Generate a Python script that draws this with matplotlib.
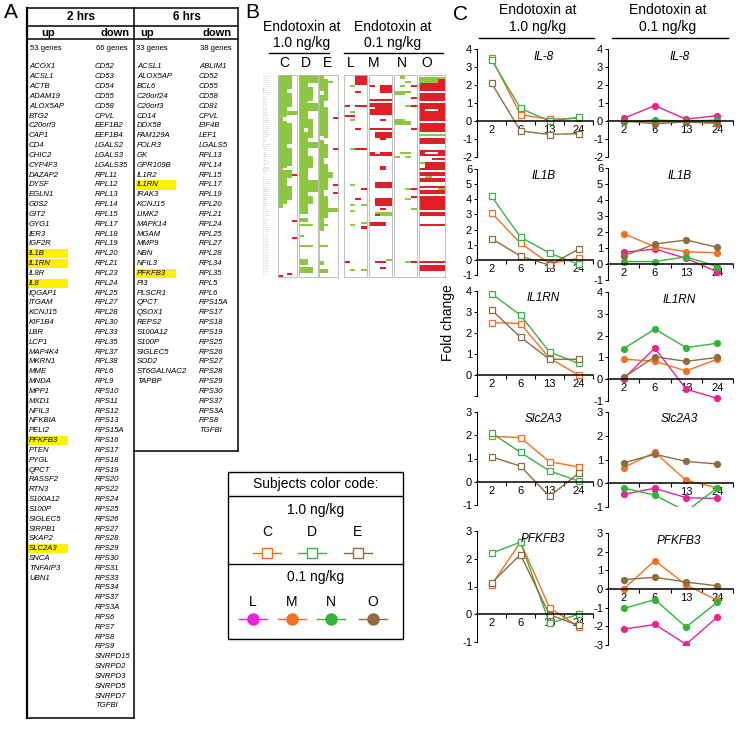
import numpy as np
import matplotlib
matplotlib.use('Agg')
import matplotlib.pyplot as plt
from matplotlib.colors import ListedColormap
from matplotlib.patches import Rectangle

plt.rcParams['font.family'] = ['Liberation Sans', 'DejaVu Sans']
plt.rcParams['axes.unicode_minus'] = False

# ---------------- panel A: gene lists ----------------
up_2h = ['ACOX1', 'ACSL1', 'ACTB', 'ADAM19', 'ALOX5AP', 'BTG2', 'C20orf3', 'CAP1', 'CD4',
         'CHIC2', 'CYP4F3', 'DAZAP2', 'DYSF', 'EGLN1', 'G0S2', 'GIT2', 'GYG1', 'IER3',
         'IGF2R', 'IL1B', 'IL1RN', 'IL8R', 'IL8', 'IQGAP1', 'ITGAM', 'KCNJ15', 'KIF1B4',
         'LBR', 'LCP1', 'MAP4K4', 'MKRN1', 'MME', 'MNDA', 'MPP1', 'MXD1', 'NFIL3', 'NFKBIA',
         'PELI2', 'PFKFB3', 'PTEN', 'PYGL', 'QPCT', 'RASSF2', 'RTN3', 'S100A12', 'S100P',
         'SIGLEC5', 'SIRPB1', 'SKAP2', 'SLC2A3', 'SNCA', 'TNFAIP3', 'UBN1']
down_2h = ['CD52', 'CD53', 'CD54', 'CD55', 'CD58', 'CPVL', 'EEF1B2', 'EEF1B4', 'LGALS2',
           'LGALS3', 'LGALS35', 'RPL11', 'RPL12', 'RPL13', 'RPL14', 'RPL15', 'RPL17', 'RPL18',
           'RPL19', 'RPL20', 'RPL21', 'RPL23', 'RPL24', 'RPL25', 'RPL27', 'RPL28', 'RPL30',
           'RPL33', 'RPL35', 'RPL37', 'RPL38', 'RPL6', 'RPL9', 'RPS10', 'RPS11', 'RPS12',
           'RPS13', 'RPS15A', 'RPS16', 'RPS17', 'RPS18', 'RPS19', 'RPS20', 'RPS22', 'RPS24',
           'RPS25', 'RPS26', 'RPS27', 'RPS28', 'RPS29', 'RPS30', 'RPS31', 'RPS33', 'RPS34',
           'RPS37', 'RPS3A', 'RPS6', 'RPS7', 'RPS8', 'RPS9', 'SNRPD15', 'SNRPD2', 'SNRPD3',
           'SNRPD5', 'SNRPD7', 'TGFBI']
up_6h = ['ACSL1', 'ALOX5AP', 'BCL6', 'C20orf24', 'C20orf3', 'CD14', 'DDX58', 'FAM129A',
         'FOLR3', 'GK', 'GPR109B', 'IL1R2', 'IL1RN', 'IRAK3', 'KCNJ15', 'LIMK2', 'MAPK14',
         'MGAM', 'MMP9', 'NBN', 'NFIL3', 'PFKFB3', 'PI3', 'PLSCR1', 'QPCT', 'QSOX1', 'REPS2',
         'S100A12', 'S100P', 'SIGLEC5', 'SOD2', 'ST6GALNAC2', 'TAPBP']
down_6h = ['ABLIM1', 'CD52', 'CD55', 'CD58', 'CD81', 'CPVL', 'EIF4B', 'LEF1', 'LGALS5',
           'RPL13', 'RPL14', 'RPL15', 'RPL17', 'RPL19', 'RPL20', 'RPL21', 'RPL24', 'RPL25',
           'RPL27', 'RPL28', 'RPL34', 'RPL35', 'RPL5', 'RPL6', 'RPS15A', 'RPS17', 'RPS18',
           'RPS19', 'RPS25', 'RPS26', 'RPS27', 'RPS28', 'RPS29', 'RPS30', 'RPS37', 'RPS3A',
           'RPS8', 'TGFBI']
marked_2h = ['IL1B', 'IL1RN', 'IL8', 'PFKFB3', 'SLC2A3']
marked_6h = ['IL1RN', 'PFKFB3']

# ---------------- panel B: heatmap cells (row0, row1, col0, col1, value) ----------------
# value 1 = green, 2 = red, 0 = blank ; columns are the 4 time points
heat_C = [(0, 63, 0, 1, 1), (0, 6, 2, 2, 1), (9, 15, 2, 2, 1), (18, 19, 2, 3, 1), (24, 33, 2, 2, 1),
          (36, 44, 2, 2, 1), (47, 50, 2, 2, 1), (55, 61, 2, 2, 1), (21, 22, 1, 1, 0), (46, 46, 1, 1, 0),
          (64, 65, 0, 0, 1), (49, 49, 3, 3, 2), (72, 72, 3, 3, 2), (80, 80, 3, 3, 2),
          (98, 98, 2, 2, 2), (99, 99, 0, 0, 2)]
heat_D = [(0, 68, 0, 1, 1), (0, 3, 2, 3, 1), (6, 12, 2, 2, 1), (14, 17, 2, 3, 1), (22, 30, 2, 2, 1),
          (33, 35, 2, 3, 1), (40, 45, 2, 2, 1), (52, 57, 2, 3, 1), (60, 63, 2, 2, 1), (26, 27, 1, 1, 0),
          (71, 72, 0, 1, 1), (74, 74, 0, 2, 1), (79, 79, 0, 0, 1), (84, 84, 0, 2, 1),
          (91, 93, 0, 1, 1), (95, 97, 0, 2, 1)]
heat_E = [(0, 76, 0, 0, 1), (2, 12, 1, 1, 1), (16, 30, 1, 1, 1), (34, 40, 1, 1, 1), (44, 56, 1, 1, 1),
          (60, 70, 1, 1, 1), (3, 3, 2, 2, 1), (48, 50, 2, 2, 1), (66, 67, 2, 3, 1), (8, 9, 0, 0, 0),
          (30, 31, 0, 0, 0), (21, 21, 3, 3, 2), (36, 36, 3, 3, 2), (54, 54, 3, 3, 2),
          (58, 58, 3, 3, 2), (74, 74, 0, 1, 1), (84, 84, 0, 1, 1), (92, 93, 0, 0, 1), (96, 97, 0, 1, 1)]
heat_L = [(0, 4, 2, 3, 2), (5, 5, 1, 1, 1), (8, 8, 2, 2, 2), (15, 15, 0, 0, 2), (15, 15, 2, 3, 2),
          (18, 18, 1, 1, 1), (20, 20, 0, 1, 2), (22, 22, 1, 1, 1), (26, 26, 2, 2, 2), (36, 36, 1, 1, 1),
          (36, 36, 2, 3, 2), (54, 54, 1, 1, 1), (56, 56, 3, 3, 2), (61, 61, 2, 2, 2), (64, 64, 1, 1, 1),
          (64, 64, 3, 3, 1), (67, 67, 1, 1, 1), (73, 73, 3, 3, 1), (74, 74, 1, 1, 1), (75, 75, 3, 3, 2),
          (92, 92, 0, 0, 2), (96, 96, 1, 1, 1), (96, 96, 3, 3, 1)]
heat_M = [(5, 8, 2, 3, 2), (5, 5, 0, 0, 2), (12, 12, 0, 3, 2), (14, 19, 0, 3, 2), (16, 16, 0, 0, 0),
          (22, 22, 2, 2, 2), (26, 26, 0, 3, 2), (28, 30, 1, 3, 2), (31, 31, 2, 2, 2), (38, 39, 0, 3, 2),
          (38, 38, 1, 1, 0), (45, 46, 2, 2, 2), (53, 55, 1, 3, 2), (61, 64, 1, 3, 2), (66, 66, 2, 2, 2),
          (68, 69, 1, 3, 1), (69, 69, 1, 1, 2), (73, 74, 0, 2, 2), (91, 91, 3, 3, 1), (92, 92, 1, 2, 2),
          (95, 95, 2, 2, 2)]
heat_N = [(0, 1, 1, 1, 1), (3, 3, 2, 2, 1), (5, 5, 1, 1, 1), (5, 5, 3, 3, 2), (8, 9, 0, 1, 1),
          (8, 8, 2, 2, 1), (11, 11, 3, 3, 2), (15, 15, 2, 2, 1), (15, 15, 3, 3, 2), (22, 24, 0, 1, 1),
          (23, 24, 2, 2, 1), (26, 26, 3, 3, 2), (38, 38, 1, 2, 1), (40, 40, 0, 0, 1), (40, 40, 2, 2, 1),
          (56, 56, 2, 2, 1), (56, 56, 3, 3, 2), (60, 60, 3, 3, 2), (61, 61, 2, 2, 1), (66, 66, 3, 3, 1),
          (92, 92, 2, 2, 1), (92, 92, 3, 3, 2)]
heat_O = [(1, 3, 0, 3, 1), (2, 3, 3, 3, 2), (4, 12, 0, 3, 2), (8, 8, 0, 3, 0), (14, 22, 0, 3, 2),
          (17, 17, 1, 2, 0), (24, 27, 0, 3, 2), (29, 29, 0, 3, 1), (31, 33, 0, 3, 2), (37, 39, 0, 3, 2),
          (38, 38, 1, 2, 0), (41, 41, 2, 3, 2), (43, 45, 1, 3, 2), (43, 43, 0, 0, 1), (46, 46, 0, 3, 2),
          (48, 49, 0, 3, 2), (50, 50, 1, 1, 1), (51, 52, 0, 3, 2), (55, 55, 0, 3, 2), (56, 56, 3, 3, 1),
          (57, 58, 0, 3, 2), (60, 66, 0, 3, 2), (68, 69, 0, 3, 2), (74, 74, 0, 3, 2), (92, 92, 0, 3, 2),
          (94, 96, 0, 3, 2)]

# ---------------- panel C: fold change ----------------
hours = ['2', '6', '13', '24']
il8_hi = {'C': [3.5, 0.35, 0.1, 0.15], 'D': [3.4, 0.7, 0.0, 0.2], 'E': [2.1, -0.55, -0.75, -0.7]}
il8_lo = {'L': [0.15, 0.85, 0.1, 0.3], 'M': [0.0, -0.05, -0.05, -0.15],
          'N': [-0.05, 0.05, 0.0, 0.05], 'O': [0.0, -0.15, -0.05, -0.1]}
il1b_hi = {'C': [3.1, 1.1, -0.25, 0.1], 'D': [4.2, 1.5, 0.45, -0.3], 'E': [1.4, 0.25, -0.35, 0.7]}
il1b_lo = {'L': [0.73, 0.94, 0.35, -0.48], 'M': [1.9, 1.08, 0.77, 0.7],
           'N': [0.15, 0.15, 0.45, -0.17], 'O': [0.5, 1.25, 1.5, 1.04]}
il1rn_hi = {'C': [2.5, 2.45, 0.8, 0.0], 'D': [3.87, 2.85, 1.1, 0.55], 'E': [3.1, 1.8, 0.75, 0.75]}
il1rn_lo = {'L': [0.03, 1.43, -0.46, -0.88], 'M': [0.92, 0.82, 0.38, 0.92],
            'N': [1.4, 2.3, 1.45, 1.65], 'O': [0.08, 1.03, 0.82, 1.0]}
slc_hi = {'C': [1.95, 1.9, 0.86, 0.64], 'D': [2.1, 1.26, 0.47, 0.03], 'E': [1.07, 0.67, -0.63, 0.36]}
slc_lo = {'L': [-0.47, -0.21, -0.61, -0.64], 'M': [0.66, 1.3, 0.12, -0.19],
          'N': [-0.2, -0.5, -1.19, -0.19], 'O': [0.86, 1.22, 0.92, 0.81]}
pfk_hi = {'C': [1.05, 2.6, 0.24, -0.45], 'D': [2.2, 2.6, -0.33, 0.0], 'E': [1.13, 2.15, -0.02, -0.4]}
pfk_lo = {'L': [-2.15, -1.9, -2.96, -1.5], 'M': [0.0, 1.52, 0.22, -0.61],
          'N': [-1.04, -0.57, -2.04, -0.7], 'O': [0.5, 0.63, 0.37, 0.17]}

colors = {'C': '#F37021', 'D': '#3DB04B', 'E': '#8C6D42',
          'L': '#E8248F', 'M': '#F37021', 'N': '#34B33A', 'O': '#8C6D42'}
legend_L = '#EE22D8'

W, H = 745, 738
fig = plt.figure(figsize=(W / 100, H / 100), dpi=100)
ov = fig.add_axes([0, 0, 1, 1])
ov.set_xlim(0, W)
ov.set_ylim(H, 0)
ov.axis('off')


def px(x0, y0, x1, y1):
    return [x0 / W, 1 - y1 / H, (x1 - x0) / W, (y1 - y0) / H]


# ---------------- panel A ----------------
ov.text(11, 13, 'A', fontsize=15, ha='center', va='center')
lk = dict(color='black', lw=1.1)
ov.plot([27, 27], [8, 718], lw=1.6, color='black')
ov.plot([134, 134], [8, 718], **lk)
ov.plot([238, 238], [8, 451], **lk)
ov.plot([27, 238], [8, 8], **lk)
ov.plot([27, 238], [26, 26], **lk)
ov.plot([27, 238], [39, 39], **lk)
ov.plot([27, 134], [718, 718], **lk)
ov.plot([134, 238], [451, 451], **lk)
ov.text(81, 17.5, '2 hrs', fontsize=8.5, fontweight='bold', ha='center', va='center')
ov.text(187, 17.5, '6 hrs', fontsize=8.5, fontweight='bold', ha='center', va='center')
for xu, xd in [(48.5, 130), (147, 232)]:
    ov.text(xu, 33, 'up', fontsize=8, fontweight='bold', ha='center', va='center')
    ov.text(xd, 33, 'down', fontsize=8, fontweight='bold', ha='right', va='center')
ov.text(30, 48, '%d genes' % len(up_2h), fontsize=5.5, va='center')
ov.text(128, 48, '%d genes' % len(down_2h), fontsize=5.5, va='center', ha='right')
ov.text(136, 48, '%d genes' % len(up_6h), fontsize=5.5, va='center')
ov.text(232, 48, '%d genes' % len(down_6h), fontsize=5.5, va='center', ha='right')

y0, dy = 67, 9.83
for names, xg, marked in [(up_2h, 29, marked_2h), (down_2h, 95, []),
                          (up_6h, 137, marked_6h), (down_6h, 199, [])]:
    for i, g in enumerate(names):
        y = y0 + i * dy
        if g in marked:
            ov.add_patch(Rectangle((xg - 1, y - 4.6), 40, 9.2, color='#FFF200', lw=0))
        ov.text(xg, y, g, fontsize=5.6, style='italic', va='center')

# ---------------- panel B ----------------
ov.text(252, 13, 'B', fontsize=15, ha='center', va='center')
for xc, dose in [(302, '1.0'), (393, '0.1')]:
    ov.text(xc, 27, 'Endotoxin at', fontsize=10, ha='center', va='center')
    ov.text(xc, 43, dose + ' ng/kg', fontsize=10, ha='center', va='center')
ov.plot([269, 329], [53, 53], color='black', lw=1)
ov.plot([344, 443], [53, 53], color='black', lw=1)

heat_cmap = ListedColormap(['white', '#8DC63F', '#E21E26'])
subjects = ['C', 'D', 'E', 'L', 'M', 'N', 'O']
heat_cells = [heat_C, heat_D, heat_E, heat_L, heat_M, heat_N, heat_O]
box_x = [(278, 297), (299, 318), (319, 338), (344, 367), (369, 392), (394, 417), (419, 445)]
letter_x = [284, 306, 327, 351, 374, 402, 427]
n_rows = 100
top, bot = 75, 277
for s, cells, (xa, xb), lx in zip(subjects, heat_cells, box_x, letter_x):
    m = np.zeros((n_rows, 4))
    for r0, r1, c0, c1, v in cells:
        m[r0:r1 + 1, c0:c1 + 1] = v
    ov.imshow(m, cmap=heat_cmap, vmin=0, vmax=2, extent=(xa, xb, bot, top),
              origin='upper', aspect='auto', interpolation='nearest', zorder=2)
    for k in range(1, n_rows):
        yy = top + k * (bot - top) / n_rows
        ov.plot([xa, xb], [yy, yy], color='#dcdcdc', lw=0.25, zorder=1.5)
    ov.add_patch(Rectangle((xa, top), xb - xa, bot - top, fill=False, ec='#b5b5b5', lw=0.6, zorder=3))
    ov.text(lx, 63, s, fontsize=10, ha='center', va='center')

all_genes = sorted(set(up_2h + down_2h + up_6h + down_6h))
for k, g in enumerate(all_genes[:n_rows]):
    ov.text(263, top + (k + 0.5) * (bot - top) / n_rows, g, fontsize=1.4, color='#a0a0a0', va='center')
ov.set_xlim(0, W)
ov.set_ylim(H, 0)

# ---------------- legend box ----------------
ov.add_patch(Rectangle((228, 472), 175, 167, fill=False, ec='black', lw=1))
ov.plot([228, 403], [496, 496], color='black', lw=1)
ov.plot([228, 403], [564, 564], color='black', lw=1)
ov.text(316, 484, 'Subjects color code:', fontsize=10, ha='center', va='center')
ov.text(316, 510, '1.0 ng/kg', fontsize=10, ha='center', va='center')
ov.text(316, 577, '0.1 ng/kg', fontsize=10, ha='center', va='center')
for s, xl in zip(['C', 'D', 'E'], [267, 312, 358]):
    ov.text(xl, 532, s, fontsize=10, ha='center', va='center')
    ov.plot([xl - 14, xl + 14], [553, 553], color=colors[s], lw=1)
    ov.plot([xl], [553], marker='s', ms=7.5, mfc='white', mec=colors[s], mew=1)
for s, xl in zip(['L', 'M', 'N', 'O'], [253, 292, 331, 373]):
    c = legend_L if s == 'L' else colors[s]
    ov.text(xl, 602, s, fontsize=10, ha='center', va='center')
    ov.plot([xl - 14, xl + 14], [619, 619], color=c, lw=1)
    ov.plot([xl], [619], marker='o', ms=8, color=c)

# ---------------- panel C ----------------
ov.text(460, 14, 'C', fontsize=15, ha='center', va='center')
for xc, dose in [(538, '1.0'), (668, '0.1')]:
    ov.text(xc, 10, 'Endotoxin at', fontsize=10, ha='center', va='center')
    ov.text(xc, 27, dose + ' ng/kg', fontsize=10, ha='center', va='center')
ov.plot([479, 594], [38, 38], color='black', lw=1)
ov.plot([612, 728], [38, 38], color='black', lw=1)
ov.text(448, 323, 'Fold change', fontsize=10, rotation=90, ha='center', va='center')

rows = [
    ('IL-8', il8_hi, il8_lo, (-2, 4), (-2, 4), (49, 157), (49, 157)),
    ('IL1B', il1b_hi, il1b_lo, (-1, 6), (-1, 6), (169, 275), (168, 280)),
    ('IL1RN', il1rn_hi, il1rn_lo, (-1, 4), (-1, 4), (291, 396), (292, 401)),
    ('Slc2A3', slc_hi, slc_lo, (-1, 3), (-1, 3), (412, 505), (412, 507)),
    ('PFKFB3', pfk_hi, pfk_lo, (-1, 3), (-3, 3), (531, 642), (533, 645)),
]
xpos = np.arange(len(hours)) + 0.5
for gene, hi, lo, lim_hi, lim_lo, yp_hi, yp_lo in rows:
    for data, lim, yp, xr, hi_dose in [(hi, lim_hi, yp_hi, (477, 593), True),
                                       (lo, lim_lo, yp_lo, (608, 733), False)]:
        ax = fig.add_axes(px(xr[0], yp[0], xr[1], yp[1]))
        ax.patch.set_alpha(0)
        for s, vals in data.items():
            if hi_dose:
                ax.plot(xpos, vals, color=colors[s], lw=1, marker='s', ms=4.8,
                        mfc='white', mec=colors[s], mew=0.9)
            else:
                ax.plot(xpos, vals, color=colors[s], lw=1, marker='o', ms=4.2)
        ax.set_xlim(0, 4)
        ax.set_ylim(*lim)
        ax.spines['top'].set_visible(False)
        ax.spines['right'].set_visible(False)
        ax.spines['bottom'].set_position(('data', 0))
        ax.spines['bottom'].set_linewidth(1.1)
        ax.spines['left'].set_linewidth(0.8)
        ax.set_xticks(xpos)
        ax.set_xticklabels(hours)
        ax.set_xticks([1, 2, 3, 4], minor=True)
        ax.tick_params(axis='x', which='major', length=0, labelsize=8, pad=3)
        ax.tick_params(axis='x', which='minor', length=3, direction='out', width=0.8)
        yt = list(range(lim[0], lim[1] + 1))
        ax.set_yticks(yt)
        if gene == 'IL1RN' and hi_dose:
            ax.set_yticklabels(['' if v < 0 else str(v) for v in yt])
        ax.tick_params(axis='y', length=2.5, width=0.7, labelsize=8, pad=1)
        ax.text(0.57, 0.93, gene, transform=ax.transAxes, fontsize=8.5, style='italic',
                ha='center', va='center')

fig.savefig('out.png', dpi=100)
